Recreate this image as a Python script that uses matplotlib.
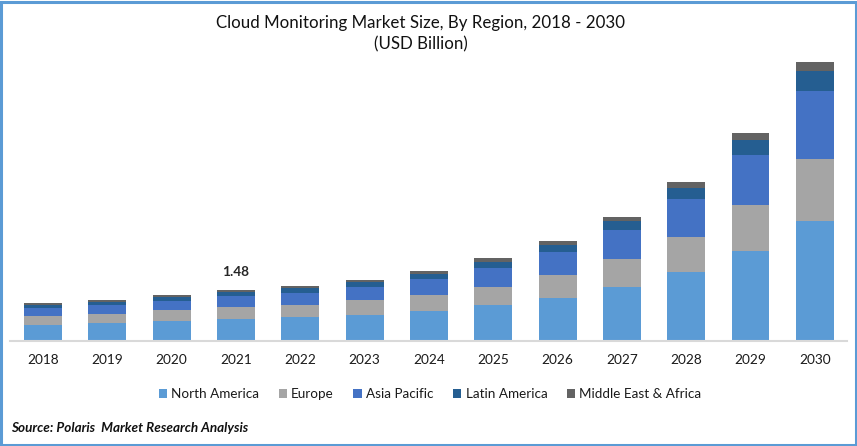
import matplotlib
matplotlib.use("Agg")
import matplotlib.pyplot as plt
from matplotlib.patches import Rectangle
import numpy as np

plt.rcParams['font.family'] = ['Lato', 'DejaVu Sans']

years = ['2018','2019','2020','2021','2022','2023','2024','2025','2026','2027','2028','2029','2030']
north_america = [0.46,0.52,0.58,0.64,0.70,0.75,0.87,1.04,1.25,1.57,2.00,2.61,3.48]
europe = [0.26,0.26,0.32,0.35,0.35,0.44,0.46,0.52,0.67,0.81,1.02,1.33,1.80]
asia_pacific = [0.23,0.26,0.26,0.32,0.35,0.38,0.46,0.55,0.67,0.84,1.10,1.45,1.97]
latin_america = [0.09,0.09,0.12,0.12,0.15,0.15,0.15,0.17,0.20,0.26,0.32,0.44,0.58]
middle_east_africa = [0.06,0.06,0.06,0.05,0.06,0.06,0.09,0.12,0.12,0.12,0.17,0.20,0.26]
series_names = ['North America','Europe','Asia Pacific','Latin America','Middle East & Africa']
series_colors = ['#5B9BD5','#A5A5A5','#4472C4','#255E91','#636363']
annotated_year = '2021'
annotated_label = '1.48'

W, H = 857, 446
fig = plt.figure(figsize=(W/100, H/100), dpi=100, facecolor='white')
base_px, top_px, left_px, right_px = 341, 55, 10, 847
ax = fig.add_axes([left_px/W, 1-base_px/H, (right_px-left_px)/W, (base_px-top_px)/H])
x = np.arange(len(years))
bottom = np.zeros(len(years))
all_series = [north_america, europe, asia_pacific, latin_america, middle_east_africa]
handles = []
for name, vals, col in zip(series_names, all_series, series_colors):
    b = ax.bar(x, vals, 0.59, bottom=bottom, color=col, label=name, linewidth=0)
    handles.append(b)
    bottom = bottom + np.array(vals)

ax.set_xlim(-0.513, 12.5)
ax.set_ylim(0, (base_px-top_px)*1.48/51)
ax.set_yticks([])
for s in ['top','left','right']:
    ax.spines[s].set_visible(False)
ax.spines['bottom'].set_color('#D9D9D9')
ax.spines['bottom'].set_linewidth(1.5)
ax.set_xticks(x)
ax.set_xticklabels(years, fontsize=9.8, color='#1a1a1a')
ax.tick_params(axis='x', length=0, pad=9)

i = years.index(annotated_year)
ax.text(x[i], bottom[i]+0.52, annotated_label, ha='center', va='center',
        fontsize=9.8, fontweight='bold', color='#262626')

fig.text(421/W, 1-23/H, 'Cloud Monitoring Market Size, By Region, 2018 - 2030',
         ha='center', va='center', fontsize=12.2, color='#111111')
fig.text(421/W, 1-44/H, '(USD Billion)', ha='center', va='center', fontsize=12.2, color='#111111')

leg = fig.legend(handles=handles, labels=series_names, loc='center', bbox_to_anchor=(430/W, 1-394/H),
                 ncol=5, frameon=False, fontsize=9.7, handlelength=0.6, handleheight=0.6,
                 handletextpad=0.33, columnspacing=1.45, labelcolor='#1a1a1a')

fig.text(11/W, 1-428/H, 'Source: Polaris  Market Research Analysis', ha='left', va='center',
         fontsize=9.7, fontweight='bold', fontstyle='italic', color='#111111')

fig.add_artist(Rectangle((1/W, 1/H), (W-2.5)/W, (H-2.5)/H, transform=fig.transFigure,
                         fill=False, edgecolor='#5B9BD5', linewidth=2.2))
fig.savefig('out.png', dpi=100, facecolor='white')
